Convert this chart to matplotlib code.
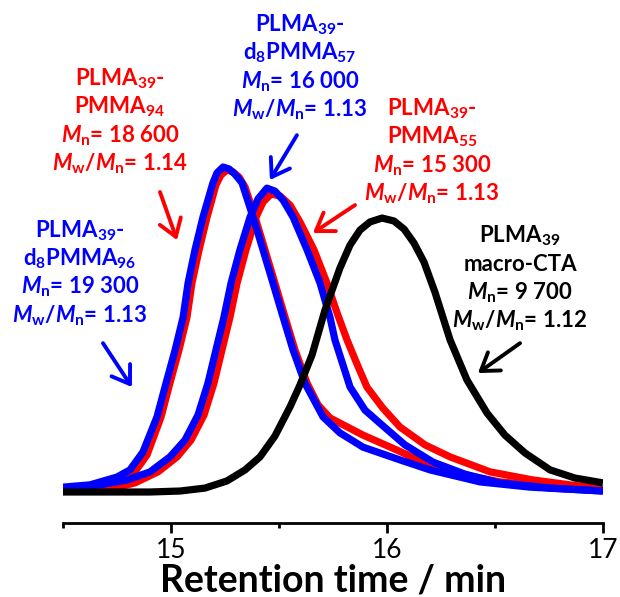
import numpy as np
import matplotlib
matplotlib.use("Agg")
import matplotlib.pyplot as plt
from matplotlib.ticker import MultipleLocator

plt.rcParams['font.family'] = ['Lato', 'DejaVu Sans']
plt.rcParams['mathtext.fontset'] = 'custom'
plt.rcParams['mathtext.rm'] = 'Lato:bold'
plt.rcParams['mathtext.it'] = 'Lato:bold:italic'
plt.rcParams['mathtext.bf'] = 'Lato:bold'

# SEC traces (retention time in min, RI signal in a.u.)
t_macro = [14.500, 14.903, 15.042, 15.157, 15.259, 15.343, 15.412, 15.481, 15.551, 15.597, 15.653,
           15.713, 15.782, 15.829, 15.875, 15.921, 15.977, 16.032, 16.079, 16.125, 16.171, 16.222,
           16.292, 16.370, 16.463, 16.546, 16.639, 16.755, 16.870, 17.000]
s_macro = [0.0, 0.0, 0.3, 1.2, 3.4, 6.8, 10.8, 17.2, 26.2, 32.9, 42.2,
           56.0, 68.9, 76.0, 80.6, 83.1, 84.3, 83.4, 80.9, 76.6, 70.8, 61.5,
           46.8, 34.5, 24.3, 17.5, 12.0, 6.8, 4.3, 2.8]

t_pmma94 = [14.500, 14.671, 14.764, 14.833, 14.889, 14.954, 14.995, 15.037, 15.074, 15.097, 15.130,
            15.167, 15.208, 15.231, 15.259, 15.287, 15.315, 15.343, 15.389, 15.435, 15.481, 15.528,
            15.574, 15.630, 15.681, 15.736, 15.889, 16.046, 16.245, 16.523, 16.801, 17.000]
s_pmma94 = [0.6, 1.5, 3.4, 6.2, 11.4, 23.1, 33.5, 43.7, 53.8, 64.3, 74.5,
            84.6, 94.5, 97.5, 99.1, 98.5, 96.9, 93.8, 84.6, 74.5, 64.3, 53.8,
            43.7, 33.5, 26.8, 22.8, 17.5, 12.9, 6.8, 3.1, 1.5, 0.6]

t_pmma55 = [14.500, 14.718, 14.833, 14.940, 15.028, 15.093, 15.153, 15.199, 15.236, 15.273, 15.306,
            15.347, 15.394, 15.426, 15.463, 15.505, 15.551, 15.597, 15.662, 15.722, 15.769, 15.815,
            15.861, 15.907, 15.981, 16.060, 16.176, 16.292, 16.477, 16.676, 16.847, 17.000]
s_pmma55 = [0.3, 0.9, 2.8, 6.2, 10.8, 16.0, 23.7, 33.5, 43.7, 53.8, 64.3,
            74.5, 84.6, 89.2, 91.7, 91.1, 88.3, 83.1, 74.5, 64.3, 55.1, 46.8,
            39.4, 32.3, 25.8, 20.0, 14.5, 10.8, 6.2, 3.7, 2.2, 0.9]

t_d8pmma96 = [14.500, 14.625, 14.750, 14.810, 14.870, 14.935, 14.977, 15.019, 15.056, 15.079, 15.111,
              15.148, 15.194, 15.213, 15.241, 15.269, 15.296, 15.329, 15.380, 15.426, 15.472, 15.519,
              15.565, 15.620, 15.704, 15.782, 15.889, 16.046, 16.199, 16.431, 16.662, 17.000]
s_d8pmma96 = [1.5, 2.2, 4.6, 6.8, 12.3, 23.1, 33.5, 43.7, 53.8, 64.3, 74.5,
              84.6, 95.1, 98.2, 100.0, 99.4, 97.8, 95.1, 84.6, 74.5, 64.3, 53.8,
              43.7, 33.5, 23.1, 18.2, 13.8, 10.2, 6.8, 3.1, 1.5, 0.3]

t_d8pmma57 = [14.500, 14.671, 14.796, 14.903, 14.995, 15.065, 15.125, 15.171, 15.208, 15.245, 15.278,
              15.319, 15.366, 15.403, 15.444, 15.481, 15.519, 15.565, 15.630, 15.690, 15.736, 15.759,
              15.829, 15.898, 15.977, 16.083, 16.213, 16.361, 16.523, 16.755, 17.000]
s_d8pmma57 = [1.2, 2.2, 3.7, 6.2, 10.8, 16.0, 23.7, 33.5, 43.7, 53.8, 64.3,
              74.5, 84.6, 90.2, 93.5, 92.6, 89.8, 84.6, 74.5, 64.3, 53.8, 46.8,
              32.3, 25.2, 20.6, 14.5, 9.2, 5.5, 2.8, 1.2, 0.3]

RED = '#ff0000'
BLUE = '#0000ff'
BLACK = '#000000'

mw_line = r'$M_\mathrm{w}$/$M_\mathrm{n}$= '
labels = [
    (['PLMA$_{39}$-', 'PMMA$_{94}$', r'$M_\mathrm{n}$= 18 600', mw_line + '1.14'], RED,
     14.764, 125.2, (14.949, 92.3), (15.028, 77.5)),
    (['PLMA$_{39}$-', 'd$_8$PMMA$_{57}$', r'$M_\mathrm{n}$= 16 000', mw_line + '1.13'], BLUE,
     15.597, 141.8, (15.583, 109.8), (15.458, 96.0)),
    (['PLMA$_{39}$-', 'PMMA$_{55}$', r'$M_\mathrm{n}$= 15 300', mw_line + '1.13'], RED,
     16.208, 116.0, (15.852, 88.3), (15.657, 79.7)),
    (['PLMA$_{39}$', 'macro-CTA', r'$M_\mathrm{n}$= 9 700', mw_line + '1.12'], BLACK,
     16.616, 76.9, (16.616, 45.8), (16.421, 36.6)),
    (['PLMA$_{39}$-', 'd$_8$PMMA$_{96}$', r'$M_\mathrm{n}$= 19 300', mw_line + '1.13'], BLUE,
     14.579, 78.5, (14.685, 45.8), (14.819, 32.3)),
]
line_step = 8.77

fig = plt.figure(figsize=(6.2, 5.97), dpi=100)
ax = fig.add_axes([63 / 620, 74 / 597, 540 / 620, 523 / 597])

lw = 5.2
style = dict(lw=lw, solid_capstyle='butt', solid_joinstyle='round')
ax.plot(t_pmma94, s_pmma94, color=RED, **style)
ax.plot(t_pmma55, s_pmma55, color=RED, **style)
ax.plot(t_d8pmma96, s_d8pmma96, color=BLUE, **style)
ax.plot(t_d8pmma57, s_d8pmma57, color=BLUE, **style)
ax.plot(t_macro, s_macro, color=BLACK, **style)

for lines, col, cx, y0, tail, head in labels:
    for i, s in enumerate(lines):
        ax.text(cx, y0 - i * line_step, s, color=col, fontsize=16, fontweight='bold',
                ha='center', va='baseline', clip_on=False)
    ax.annotate('', xy=head, xytext=tail,
                arrowprops=dict(arrowstyle='->,head_length=0.6,head_width=0.4',
                                color=col, lw=2.8, mutation_scale=20,
                                shrinkA=0, shrinkB=0))

ax.set_xlim(14.5, 17)
ax.set_ylim(-9.54, 151.4)
for side in ['left', 'top', 'right']:
    ax.spines[side].set_visible(False)
ax.spines['bottom'].set_linewidth(2)
ax.set_yticks([])
ax.xaxis.set_major_locator(MultipleLocator(1))
ax.xaxis.set_minor_locator(MultipleLocator(0.5))
ax.tick_params(axis='x', which='major', direction='out', length=7, width=2,
               labelsize=19, pad=4)
ax.tick_params(axis='x', which='minor', direction='out', length=3.5, width=2)
ax.set_xlabel('Retention time / min', fontsize=27, fontweight='bold', labelpad=0)

fig.savefig('out.png', dpi=100)
